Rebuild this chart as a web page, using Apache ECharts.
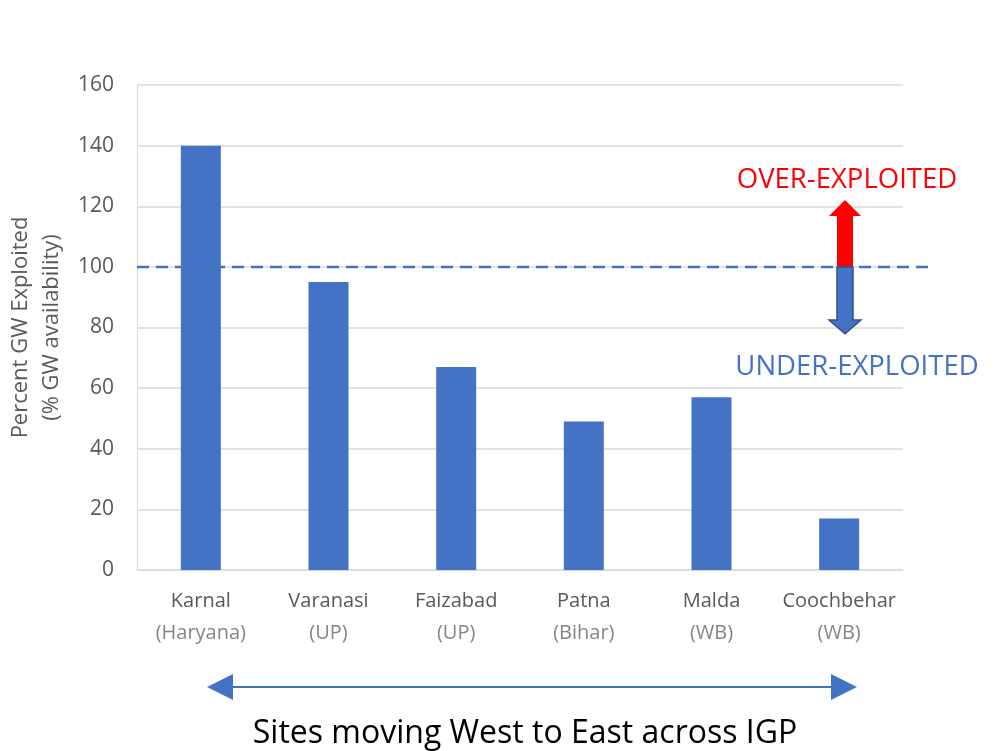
<!DOCTYPE html>
<html>
<head>
<meta charset="utf-8">
<title>GW exploitation across IGP</title>
<script src="https://cdn.jsdelivr.net/npm/echarts@6/dist/echarts.min.js"></script>
<style>
  html, body { margin: 0; padding: 0; background: #fff; }
  #chart { width: 996px; height: 751px; }
</style>
</head>
<body>
<div id="chart"></div>
<script>
// site names (west -> east) and their states
const sites = ['Karnal', 'Varanasi', 'Faizabad', 'Patna', 'Malda', 'Coochbehar']
const states = ['(Haryana)', '(UP)', '(UP)', '(Bihar)', '(WB)', '(WB)']
// percent GW exploited
const exploited = [140, 95, 67, 49, 57, 17]
// y axis range
const yMin = 0
const yMax = 160
const yStep = 20
// threshold line and arrow extents (axis values)
const threshold = 100
const overArrow = [116.8, 122.1]   // head base, tip
const underArrow = [82.5, 77.9]

const blue = '#4472C4'
const font = '"Open Sans", "Noto Sans", sans-serif'

const chart = echarts.init(document.getElementById('chart'), null, { renderer: 'canvas' })

const option = {
  animation: false,
  grid: { left: 137, right: 93, top: 85, bottom: 181, outerBoundsMode: 'none', containLabel: false },
  xAxis: {
    type: 'category',
    data: sites,
    axisLine: { show: true, lineStyle: { color: '#d9d9d9', width: 1 } },
    axisTick: { show: false },
    axisLabel: {
      margin: 15,
      interval: 0,
      formatter: (v, i) => '{a|' + v + '}\n{b|' + states[i] + '}',
      rich: {
        a: { fontFamily: font, fontSize: 20, color: '#595959', lineHeight: 32 },
        b: { fontFamily: font, fontSize: 20, color: '#858585', lineHeight: 32 }
      }
    }
  },
  yAxis: {
    type: 'value',
    min: yMin,
    max: yMax,
    interval: yStep,
    name: 'Percent GW Exploited\n(% GW availability)',
    nameLocation: 'middle',
    nameRotate: 90,
    nameGap: 68,
    nameTextStyle: { fontFamily: font, fontSize: 22, color: '#595959', lineHeight: 31 },
    axisLine: { show: true, lineStyle: { color: '#d9d9d9' } },
    axisTick: { show: false },
    axisLabel: { fontFamily: font, fontSize: 21, color: '#595959', margin: 23 },
    splitLine: { lineStyle: { color: '#d9d9d9', width: 1.5 } }
  },
  series: [{
    type: 'bar',
    data: exploited,
    barWidth: 40,
    itemStyle: { color: blue }
  }]
}
chart.setOption(option)

// annotations placed from axis values
const yPx = v => chart.convertToPixel({ yAxisIndex: 0 }, v)
const ax = 845
const y100 = yPx(threshold)

const arrowPts = (base, tip) => [
  [ax - 8, y100], [ax + 8, y100], [ax + 8, yPx(base)], [ax + 16, yPx(base)],
  [ax, yPx(tip)], [ax - 16, yPx(base)], [ax - 8, yPx(base)]
]

chart.setOption({
  graphic: [
    {
      type: 'line',
      shape: { x1: 137, y1: y100, x2: 930, y2: y100 },
      style: { stroke: blue, lineWidth: 2.5, lineDash: [12, 7] },
      z: 10
    },
    {
      type: 'polygon',
      shape: { points: arrowPts(overArrow[0], overArrow[1]) },
      style: { fill: '#ff0000' },
      z: 11
    },
    {
      type: 'polygon',
      shape: { points: arrowPts(underArrow[0], underArrow[1]) },
      style: { fill: blue, stroke: '#2f528f', lineWidth: 1.5 },
      z: 11
    },
    {
      type: 'text',
      x: 847, y: 180,
      style: { text: 'OVER-EXPLOITED', fill: '#ff0000', font: '27.5px ' + font, textAlign: 'center', textVerticalAlign: 'middle' },
      z: 12
    },
    {
      type: 'text',
      x: 857, y: 367,
      style: { text: 'UNDER-EXPLOITED', fill: blue, font: '27.5px ' + font, textAlign: 'center', textVerticalAlign: 'middle' },
      z: 12
    },
    // west -> east arrow
    {
      type: 'line',
      shape: { x1: 230, y1: 687, x2: 834, y2: 687 },
      style: { stroke: blue, lineWidth: 2 },
      z: 10
    },
    {
      type: 'polygon',
      shape: { points: [[207, 687], [233, 674], [233, 700]] },
      style: { fill: blue },
      z: 11
    },
    {
      type: 'polygon',
      shape: { points: [[857, 687], [831, 674], [831, 700]] },
      style: { fill: blue },
      z: 11
    },
    {
      type: 'text',
      x: 525, y: 734,
      style: { text: 'Sites moving West to East across IGP', fill: '#000', font: '32px ' + font, textAlign: 'center', textVerticalAlign: 'middle' },
      z: 12
    }
  ]
})

window.addEventListener('resize', () => chart.resize())
</script>
</body>
</html>
